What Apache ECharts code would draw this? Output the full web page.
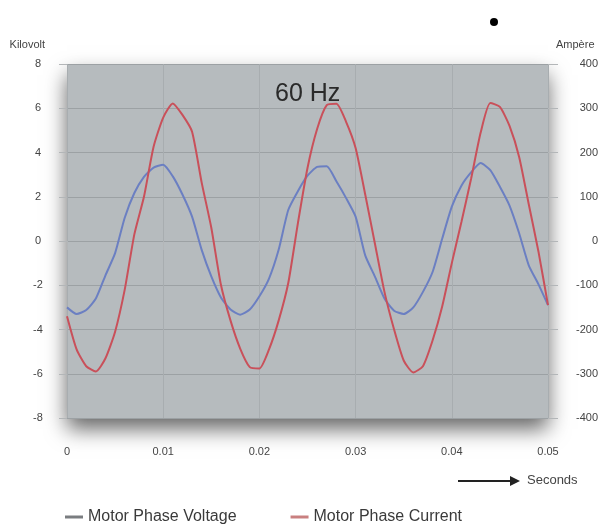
<!DOCTYPE html>
<html>
<head>
<meta charset="utf-8">
<script src="https://cdn.jsdelivr.net/npm/echarts@6/dist/echarts.min.js"></script>
<style>
  html, body { margin: 0; padding: 0; background: #fff; }
  #chart { width: 613px; height: 532px; }
</style>
</head>
<body>
<div id="chart"></div>
<script>
// time samples (s)
var seconds = [0, 0.001, 0.002, 0.003, 0.004, 0.005, 0.006, 0.007, 0.008, 0.009,
  0.010, 0.011, 0.012, 0.013, 0.014, 0.015, 0.016, 0.017, 0.018, 0.019,
  0.020, 0.021, 0.022, 0.023, 0.024, 0.025, 0.026, 0.027, 0.028, 0.029,
  0.030, 0.031, 0.032, 0.033, 0.034, 0.035, 0.036, 0.037, 0.038, 0.039,
  0.040, 0.041, 0.042, 0.043, 0.044, 0.045, 0.046, 0.047, 0.048, 0.049, 0.050];

// Motor Phase Voltage (kV, left axis)
var voltage = [-3.0, -3.3, -3.12, -2.6, -1.55, -0.55, 1.05, 2.17, 2.9, 3.32,
  3.45, 2.92, 2.1, 1.1, -0.4, -1.6, -2.55, -3.1, -3.33, -3.1,
  -2.5, -1.7, -0.4, 1.4, 2.25, 2.95, 3.35, 3.38, 2.7, 1.95,
  1.1, -0.65, -1.6, -2.6, -3.15, -3.3, -3.0, -2.3, -1.4, 0.1,
  1.55, 2.5, 3.1, 3.52, 3.2, 2.45, 1.6, 0.35, -1.1, -1.95, -2.9];

// Motor Phase Current (A, right axis)
var current = [-170, -245, -283, -295, -265, -205, -110, 15, 100, 213,
  279, 311, 285, 247, 132, 30, -99, -180, -243, -285,
  -288, -245, -180, -95, 40, 165, 253, 307, 310, 270,
  210, 105, -5, -115, -200, -270, -297, -283, -225, -148,
  -50, 43, 140, 245, 312, 303, 260, 190, 83, -23, -145];

var leftTicks = { min: -8, max: 8, step: 2 };
var rightTicks = { min: -400, max: 400, step: 100 };

function pairs(xs, ys) {
  var out = [];
  for (var i = 0; i < xs.length; i++) out.push([xs[i], ys[i]]);
  return out;
}

var chart = echarts.init(document.getElementById('chart'));
var labelFont = 'Liberation Sans, Arial, sans-serif';

chart.setOption({
  animation: false,
  title: {
    text: '60 Hz',
    left: 270,
    top: 77,
    textStyle: { fontFamily: labelFont, fontSize: 25, fontWeight: 'normal', color: '#2a2a2a' }
  },
  grid: {
    left: 67, right: 65, top: 64, bottom: 114,
    show: true,
    backgroundColor: '#b6bbbe',
    borderWidth: 0,
    shadowColor: 'rgba(0,0,0,0.6)',
    shadowBlur: 20,
    shadowOffsetY: 11
  },
  legend: {
    left: 60,
    bottom: 2,
    icon: 'rect',
    itemWidth: 18,
    itemHeight: 3,
    itemGap: 54,
    textStyle: { fontFamily: labelFont, fontSize: 16, color: '#3a3a3a' },
    data: ['Motor Phase Voltage', 'Motor Phase Current']
  },
  xAxis: {
    type: 'value',
    min: 0, max: 0.05, interval: 0.01,
    axisLine: { show: false },
    axisTick: { show: true, length: 9, lineStyle: { color: '#b3b6b8' } },
    axisLabel: {
      margin: 28,
      fontFamily: labelFont, fontSize: 11, color: '#444',
      formatter: function (v) { return v === 0 ? '0' : v.toFixed(2); }
    },
    splitLine: { show: true, lineStyle: { color: '#a8adb0', width: 1 } }
  },
  yAxis: [{
    type: 'value',
    name: 'Kilovolt',
    nameLocation: 'end',
    nameGap: 14,
    nameTextStyle: { fontFamily: labelFont, fontSize: 11, color: '#444', align: 'right', padding: [0, 22, 0, 0] },
    min: leftTicks.min, max: leftTicks.max, interval: leftTicks.step,
    axisLine: { show: false },
    axisTick: { show: true, length: 8, lineStyle: { color: '#b3b6b8' } },
    axisLabel: { margin: 29, align: 'center', fontFamily: labelFont, fontSize: 11, color: '#444' },
    splitLine: { show: true, lineStyle: { color: '#9ca1a4', width: 1 } }
  }, {
    type: 'value',
    name: 'Ampère',
    nameLocation: 'end',
    nameGap: 14,
    nameTextStyle: { fontFamily: labelFont, fontSize: 11, color: '#444', align: 'left', padding: [0, 0, 0, 8] },
    min: rightTicks.min, max: rightTicks.max, interval: rightTicks.step,
    axisLine: { show: false },
    axisTick: { show: true, length: 10, lineStyle: { color: '#b3b6b8' } },
    axisLabel: { margin: 50, align: 'right', fontFamily: labelFont, fontSize: 11, color: '#444' },
    splitLine: { show: false }
  }],
  series: [{
    name: 'Motor Phase Voltage',
    type: 'line',
    yAxisIndex: 0,
    showSymbol: false,
    smooth: 0.2,
    itemStyle: { color: '#7a7d80' },
    lineStyle: { color: '#6b7fc2', width: 2 },
    data: pairs(seconds, voltage)
  }, {
    name: 'Motor Phase Current',
    type: 'line',
    yAxisIndex: 1,
    showSymbol: false,
    smooth: 0.2,
    itemStyle: { color: '#c98080' },
    lineStyle: { color: '#c9505a', width: 2 },
    data: pairs(seconds, current)
  }],
  graphic: [
    { type: 'circle', shape: { cx: 494, cy: 22, r: 4 }, style: { fill: '#000' } },
    { type: 'line', shape: { x1: 458, y1: 481, x2: 512, y2: 481 }, style: { stroke: '#222', lineWidth: 2 } },
    { type: 'polygon', shape: { points: [[510, 476], [520, 481], [510, 486]] }, style: { fill: '#222' } },
    { type: 'text', left: 527, top: 474, style: { text: 'Seconds', font: '13px Liberation Sans, Arial, sans-serif', fill: '#444' } }
  ]
});
</script>
</body>
</html>
